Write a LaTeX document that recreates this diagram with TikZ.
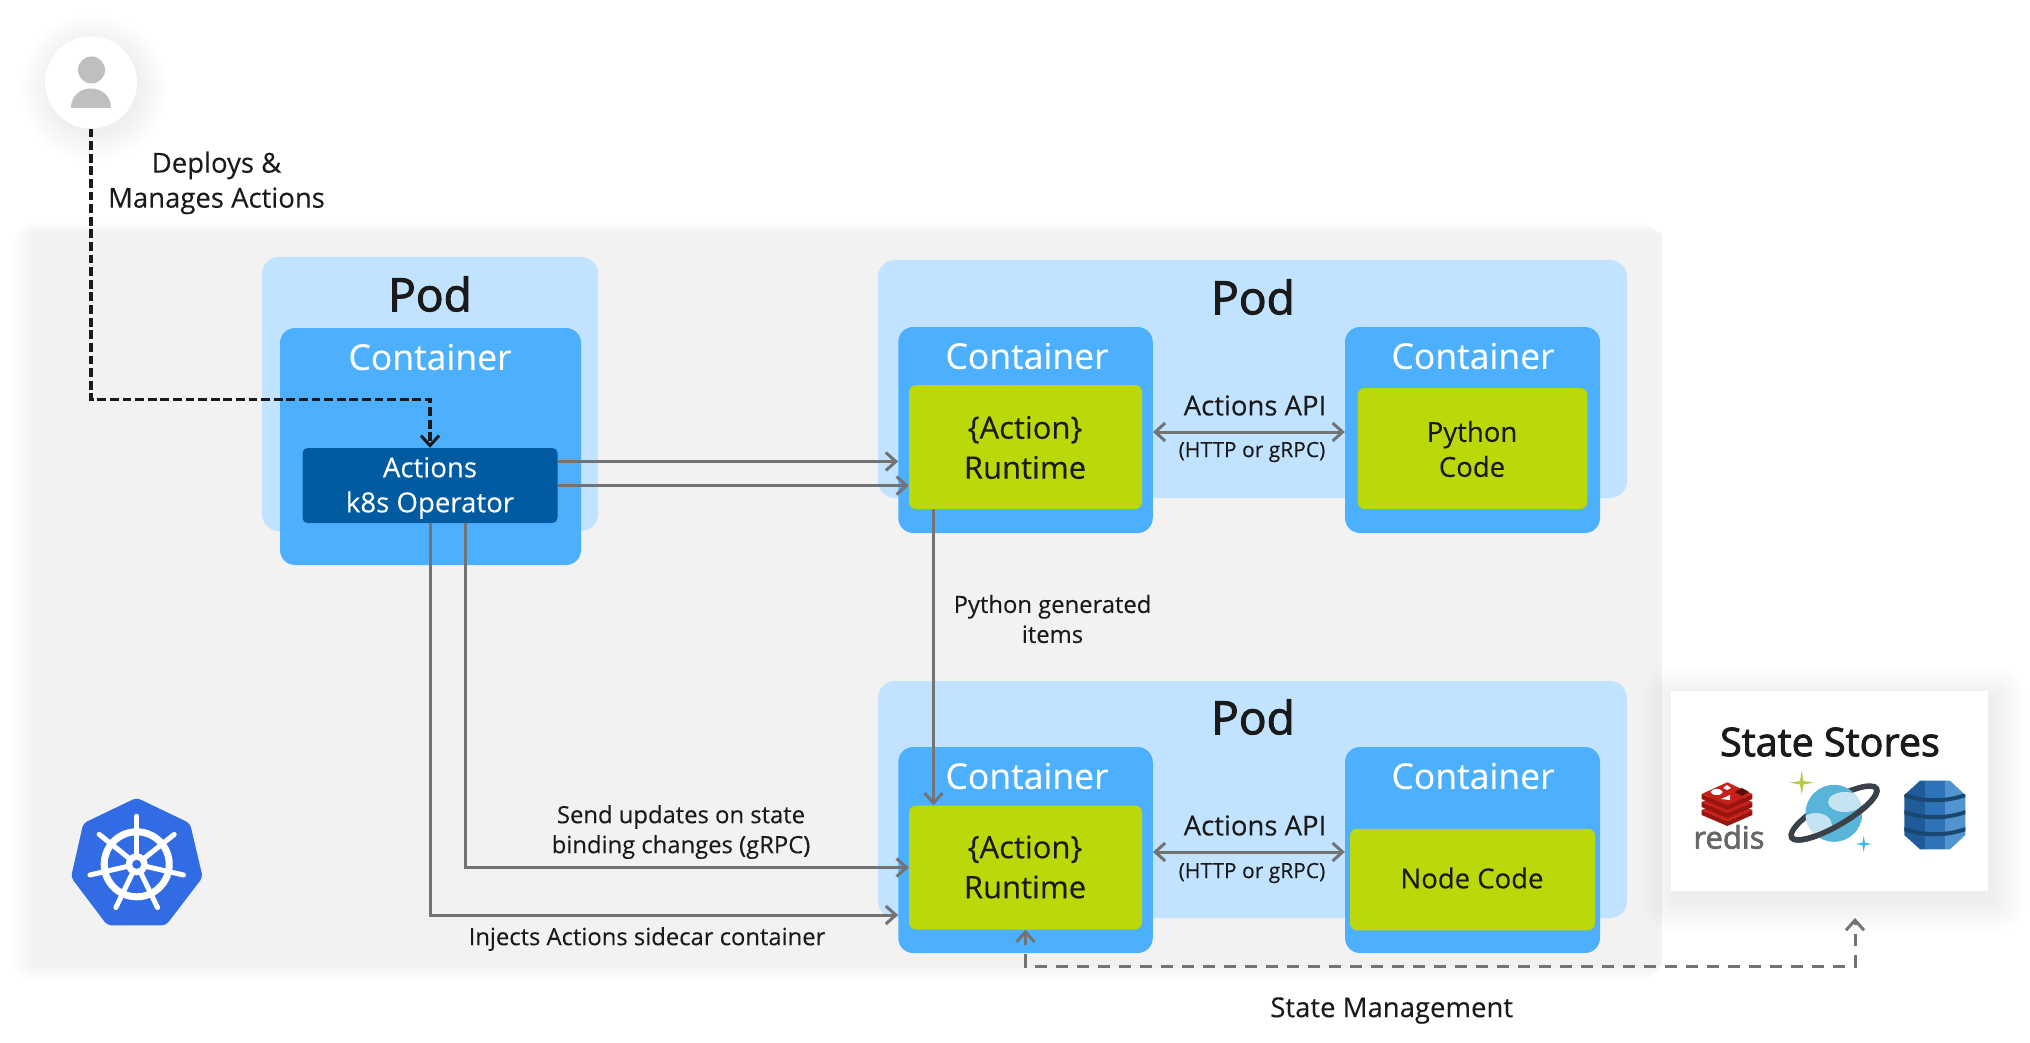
\documentclass[tikz,border=0pt]{standalone}
\usepackage{fontspec}
\setmainfont[FakeBold=0.15]{Open Sans}
\newfontfamily\headfont[FakeBold=2.2]{Open Sans}
\usetikzlibrary{arrows.meta}

\definecolor{clusterbg}{HTML}{F2F2F2}
\definecolor{podblue}{HTML}{C2E3FF}
\definecolor{ctblue}{HTML}{4DB0FF}
\definecolor{opblue}{HTML}{005BA1}
\definecolor{rtgreen}{HTML}{BAD80A}
\definecolor{inkdark}{HTML}{1A1A1A}
\definecolor{linegrey}{HTML}{737373}
\definecolor{k8sblue}{HTML}{326CE5}
\definecolor{redismain}{HTML}{C6201A}
\definecolor{redisdark}{HTML}{9A1510}
\definecolor{ringgrey}{HTML}{3A4149}
\definecolor{planetblue}{HTML}{59B4D9}
\definecolor{cloudblue}{HTML}{C5E3F0}
\definecolor{sparkgreen}{HTML}{B8C948}
\definecolor{sparkblue}{HTML}{3BB8F0}
\definecolor{dynoleft}{HTML}{205B99}
\definecolor{dynomid}{HTML}{2E73B8}
\definecolor{dynoright}{HTML}{5294CF}
\definecolor{dynoband}{HTML}{1A476F}

\newcommand{\fs}[2]{\fontsize{#1}{#2}\selectfont}

\tikzset{
  podbox/.style={draw=none,fill=podblue,rounded corners=17pt,inner sep=0pt},
  ctbox/.style={draw=none,fill=ctblue,rounded corners=15pt,inner sep=0pt},
  rtbox/.style={draw=none,fill=rtgreen,rounded corners=7pt,inner sep=0pt},
  podtext/.style={text=inkdark,font=\headfont\fs{46}{50}},
  cttext/.style={text=white,font=\fs{35.5}{40}},
  rttext/.style={text=inkdark,align=center,font=\fs{31}{40}},
  note/.style={text=inkdark,align=center,font=\fs{27.5}{35}},
  smallnote/.style={text=inkdark,align=center,font=\fs{23.8}{30}},
  barb/.style={-{Straight Barb[length=10pt,width=18pt,line width=3pt]}},
  flow/.style={draw=linegrey,line width=3pt,barb},
  both/.style={draw=linegrey,line width=3pt,{Straight Barb[length=10pt,width=18pt,line width=3pt]}-{Straight Barb[length=10pt,width=18pt,line width=3pt]}},
}

\begin{document}
\begin{tikzpicture}[x=1pt,y=-1pt]
\useasboundingbox (0,0) rectangle (2030,1043);
\fill[white] (0,0) rectangle (2030,1043);

% soft shadows
\foreach \d in {2,4,...,26}{
  \fill[black,opacity=0.002,rounded corners=\d pt] (36-\d,233-0.4*\d) rectangle (1662,965+0.6*\d);
}
\node[draw=none,fill=clusterbg,minimum width=1626pt,minimum height=732pt,inner sep=0pt] (cluster) at (849,599) {};

% first pod
\node[podbox,minimum width=336pt,minimum height=274pt] (podA) at (430,394) {};
\node[ctbox,minimum width=301pt,minimum height=237pt] (ctO) at (430.5,446.5) {};
\node[draw=none,fill=opblue,rounded corners=5pt,minimum width=255pt,minimum height=75pt,inner sep=0pt] (op) at (430,485.5) {};
\node[podtext] (podAtext) at (430,294) {Pod};
\node[cttext] (ctOtext) at (430,357) {Container};
\node[text=white,align=center,font=\fs{27.6}{35}] (optext) at (430,488) {Actions\\k8s Operator};

% second pod
\node[podbox,minimum width=749pt,minimum height=238pt] (podB) at (1252.5,379) {};
\node[ctbox,minimum width=254.5pt,minimum height=206pt] (ctA) at (1025.5,430) {};
\node[ctbox,minimum width=255pt,minimum height=206pt] (ctB) at (1472.5,430) {};
\node[rtbox,minimum width=233pt,minimum height=124pt] (rtA) at (1025.5,447) {};
\node[rtbox,minimum width=229.5pt,minimum height=121pt] (py) at (1472.5,448.5) {};
\node[podtext] (podBtext) at (1253,297) {Pod};
\node[cttext] (ctAtext) at (1027,356) {Container};
\node[cttext] (ctBtext) at (1473,356) {Container};
\node[rttext] (rtAtext) at (1025,447.5) {\{Action\}\\Runtime};
\node[note] (pytext) at (1472,449) {Python\\Code};
\node[note] (apiA) at (1255,405.5) {Actions API};
\node[text=inkdark,font=\fs{21}{24}] (httpA) at (1252,452) {(HTTP or gRPC)};

% third pod
\node[podbox,minimum width=749pt,minimum height=237pt] (podC) at (1252.5,799.5) {};
\node[ctbox,minimum width=254.5pt,minimum height=206pt] (ctC) at (1025.5,850) {};
\node[ctbox,minimum width=255pt,minimum height=206pt] (ctD) at (1472.5,850) {};
\node[rtbox,minimum width=233pt,minimum height=124pt] (rtC) at (1025.5,867.5) {};
\node[rtbox,minimum width=245pt,minimum height=101.5pt] (nd) at (1472.5,879.5) {};
\node[podtext] (podCtext) at (1253,717) {Pod};
\node[cttext] (ctCtext) at (1027,776) {Container};
\node[cttext] (ctDtext) at (1473,776) {Container};
\node[rttext] (rtCtext) at (1025,867) {\{Action\}\\Runtime};
\node[note] (ndtext) at (1472,878) {Node Code};
\node[note] (apiC) at (1255,825.5) {Actions API};
\node[text=inkdark,font=\fs{21}{24}] (httpC) at (1252,873) {(HTTP or gRPC)};

% user
\foreach \d in {2,4,...,30}{
  \fill[black,opacity=0.004] (94,88) circle[radius=44pt+\d pt];
}
\node[circle,draw=none,fill=white,minimum size=92pt,inner sep=0pt] (user) at (91,82.5) {};
\fill[black!25] (91.5,70) circle[radius=13.5pt];
\fill[black!25] (71,108) .. controls (71,82) and (111,82) .. (111,108) -- cycle;

% state stores
\foreach \d in {2,4,...,34}{
  \fill[black,opacity=0.004,rounded corners=\d pt] (1671-\d+4,691-\d+8) rectangle (1988+\d+4,891+\d+8);
}
\node[draw=none,fill=white,minimum width=317pt,minimum height=200pt,inner sep=0pt] (stores) at (1829.5,791) {};
\node[text=inkdark,font=\headfont\fs{39.5}{46}] (storestext) at (1830,742) {State Stores};

% redis
\foreach \s in {16,8,0}{
  \fill[redisdark] (1701.7,794+\s) -- (1727.3,805+\s) -- (1752.3,794+\s) -- (1752.3,799+\s) -- (1727.3,810+\s) -- (1701.7,799+\s) -- cycle;
  \fill[redismain] (1727.3,782.3+\s) -- (1752.3,794+\s) -- (1727.3,805+\s) -- (1701.7,794+\s) -- cycle;
}
\fill[white] (1716.7,792) ellipse[x radius=6pt,y radius=3pt];
\fill[white] (1727,785) -- (1731,788) -- (1727,790) -- (1723,788) -- cycle;
\fill[white] (1721,799) -- (1730,795) -- (1730,800) -- cycle;
\fill[redisdark!60!black] (1735,792) -- (1742,788) -- (1749,792) -- (1742,796) -- cycle;
\node[text=black!60,font=\headfont\fs{31}{36},inner sep=0pt] (redis) at (1729,837) {redis};

% cosmos
\begin{scope}[shift={(1834,813)},rotate=30]
\draw[ringgrey,line width=5.5pt] (0,0) ellipse[x radius=49pt,y radius=13pt];
\end{scope}
\begin{scope}
\clip (1834,813.3) circle[radius=28.5pt];
\fill[planetblue] (1834,813.3) circle[radius=28.5pt];
\fill[cloudblue] (1845,802) ellipse[x radius=17pt,y radius=10pt];
\fill[cloudblue] (1816,825) ellipse[x radius=16pt,y radius=12pt];
\end{scope}
\begin{scope}[shift={(1834,813)},rotate=30]
\draw[ringgrey,line width=5.5pt] (-49pt,0pt) arc[start angle=180,end angle=360,x radius=49pt,y radius=13pt];
\end{scope}
\fill[sparkgreen] (1801.7,770.7) -- (1803.5,781) -- (1813.7,782.7) -- (1803.5,784.5) -- (1801.7,794.7) -- (1800,784.5) -- (1789.7,782.7) -- (1800,781) -- cycle;
\fill[sparkblue] (1863.7,836) -- (1865,842.7) -- (1871.7,844) -- (1865,845.3) -- (1863.7,852) -- (1862.4,845.3) -- (1855.7,844) -- (1862.4,842.7) -- cycle;

% dynamo
\begin{scope}
\clip (1920,780.7) -- (1950,780.7) -- (1965.3,795) -- (1965.3,835) -- (1950,849.3) -- (1920,849.3) -- (1904.3,835) -- (1904.3,795) -- cycle;
\fill[dynoleft] (1904,780) rectangle (1925,850);
\fill[dynomid] (1925,780) rectangle (1945,850);
\fill[dynoright] (1945,780) rectangle (1966,850);
\foreach \yy in {799,816,833}{
  \draw[dynoband,line width=4pt] (1904,\yy-4) .. controls (1925,\yy+3) and (1945,\yy+3) .. (1966,\yy-4);
}
\end{scope}

% k8s logo
\fill[k8sblue,rounded corners=4pt] (136.7,797.7) -- (190,823.3) -- (202.7,877.3) -- (166,925.3) -- (107.3,925.3) -- (71,877.3) -- (83.3,823.3) -- cycle;
\draw[white,line width=7pt] (136.7,864.3) circle[radius=32.5pt];
\foreach \a in {0,1,...,6}{
  \draw[white,line width=5pt,line cap=round] (136.7,864.3) -- ++(-90+\a*51.43:48);
}
\fill[white] (136.7,864.3) circle[radius=11pt];
\fill[k8sblue] (136.7,864.3) circle[radius=4.5pt];

% connectors
\coordinate (bendA) at (430,399.5);
\draw[inkdark,line width=3.3pt,dash pattern=on 8.8pt off 3.8pt,barb] (user.south) |- (bendA) -- (op.north);
\draw[flow] ([yshift=24pt]op.east) -- ([yshift=24pt]op.east -| ctA.west);
\draw[flow] (op.east) -- (op.east -| rtA.west);
\draw[flow] ([xshift=35pt]op.south) |- (rtC.west);
\draw[flow] (op.south) |- ([yshift=-65pt]ctC.west);
\draw[flow] ([xshift=-92pt]rtA.south) -- ([xshift=-92pt]rtC.north);
\draw[both] ([yshift=-2pt]ctA.east) -- ([yshift=-2pt]ctB.west);
\draw[both] ([yshift=-2pt]ctC.east) -- ([yshift=-2pt]ctD.west);
\coordinate (stateBend) at (1025.5,966);
\coordinate (stateEnd) at (1855,918);
\draw[both,dash pattern=on 12pt off 9pt] (rtC.south) -- (stateBend) -| (stateEnd);

% labels on the connectors
\node[note] (deploytext) at (216.5,183) {Deploys \&\\Manages Actions};
\node[smallnote] (pytextgen) at (1052.5,619) {Python generated\\items};
\node[smallnote] (sendtext) at (681,832) {Send updates on state\\binding changes (gRPC)};
\node[smallnote] (injecttext) at (647,939) {Injects Actions sidecar container};
\node[note] (statetext) at (1391.7,1010.5) {State Management};
\end{tikzpicture}
\end{document}
